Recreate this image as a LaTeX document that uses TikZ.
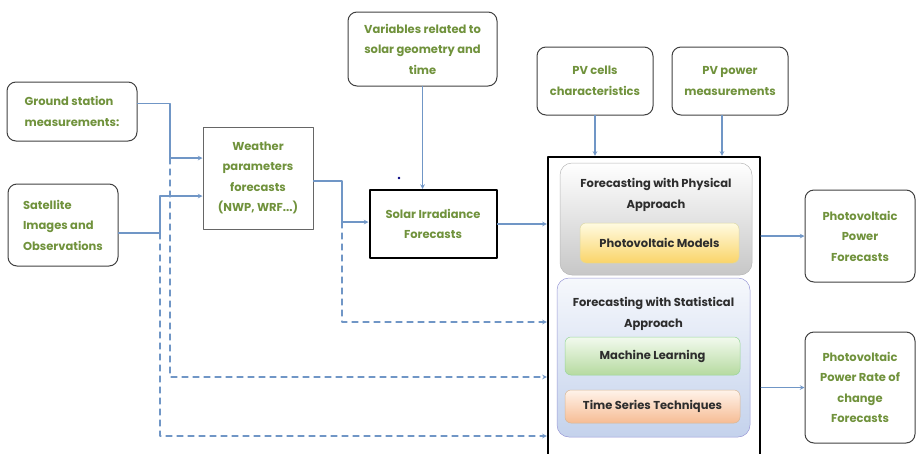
\documentclass[tikz,border=0pt]{standalone}
\usepackage{fontspec}
\setmainfont{Poppins}
\definecolor{txtgreen}{RGB}{112,146,60}
\definecolor{flowblue}{RGB}{112,150,198}
\definecolor{darktxt}{RGB}{45,45,45}
\begin{document}
\begin{tikzpicture}[x=1pt, y=-1pt, line cap=round, line join=round, font=\fontsize{11.5}{20.5}\selectfont\bfseries, >=stealth]
	\tikzset{inbox/.style={draw=black!75, line width=1pt, rounded corners=9pt, text=txtgreen, align=center, inner sep=2pt},
		flow/.style={draw=flowblue, line width=1.1pt},
		flowd/.style={flow, dash pattern=on 6pt off 5pt},
		sub/.style={rounded corners=6pt, text=darktxt, draw=#1!60!black!40, line width=0.5pt}}
	\useasboundingbox (0,0) rectangle (916,453);
	\node[inbox, align=left, minimum width=130pt, minimum height=59pt] (ground) at (72,111.5) {Ground station\\measurements:};
	\node[inbox, align=left, minimum width=110pt, minimum height=82pt] (sat) at (63,225) {Satellite\\Images and\\Observations};
	\node[inbox, rounded corners=0pt, draw=black!60, minimum width=110pt, minimum height=102pt] (weather) at (258,178) {Weather\\parameters\\forecasts\\(NWP, WRF...)};
	\node[inbox, rounded corners=0pt, draw=black, line width=2pt, minimum width=127pt, minimum height=68pt] (solar) at (433,224) {Solar Irradiance\\Forecasts};
	\node[inbox, minimum width=149pt, minimum height=74pt] (vars) at (422.5,49) {Variables related to\\solar geometry and\\time};
	\node[inbox, minimum width=116pt, minimum height=68pt] (cells) at (595,81) {PV cells\\characteristics};
	\node[inbox, minimum width=116pt, minimum height=68pt] (power) at (730,81) {PV power\\measurements};
	\node[draw=black, line width=2.2pt, minimum width=212pt, minimum height=303pt] (big) at (654,308.5) {};
	\node[sub=gray, rounded corners=12pt, top color=white, bottom color=black!22, minimum width=192pt, minimum height=112pt] (phys) at (656,219) {};
	\node[text=darktxt, align=center] (physt) at (656,195) {Forecasting with Physical\\Approach};
	\node[sub=yellow, top color={rgb,255:red,255;green,251;blue,225}, bottom color={rgb,255:red,250;green,212;blue,105}, minimum width=159pt, minimum height=40pt] (models) at (659.5,243) {Photovoltaic Models};
	\node[sub=blue, rounded corners=12pt, top color={rgb,255:red,246;green,248;blue,252}, bottom color={rgb,255:red,196;green,210;blue,236}, minimum width=193pt, minimum height=159pt] (stat) at (653.5,357.5) {};
	\node[text=darktxt, align=center] (statt) at (653.5,314) {Forecasting with Statistical\\Approach};
	\node[sub=green, top color={rgb,255:red,242;green,250;blue,238}, bottom color={rgb,255:red,182;green,218;blue,160}, minimum width=175pt, minimum height=38pt] (ml) at (652.5,356) {Machine Learning};
	\node[sub=orange, top color={rgb,255:red,255;green,243;blue,234}, bottom color={rgb,255:red,246;green,188;blue,148}, minimum width=175pt, minimum height=33pt] (ts) at (652.5,406.5) {Time Series Techniques};
	\node[inbox, minimum width=110pt, minimum height=92pt] (pvf) at (860,236) {Photovoltaic\\Power\\Forecasts};
	\node[inbox, minimum width=110pt, minimum height=111pt] (rate) at (860,387.5) {Photovoltaic\\Power Rate of\\change\\Forecasts};
	\coordinate (gj) at (170,158); \coordinate (g2) at (170,377);
	\coordinate (sj) at (160,233); \coordinate (s1) at (160,196); \coordinate (s2) at (160,436);
	\coordinate (wj) at (342,222); \coordinate (w2) at (342,322);
	\draw[flow, ->] ([yshift=8pt]ground.east) -| (gj) -- (gj -| weather.west);
	\draw[flow, ->] ([yshift=-8pt]sat.east) -- (sj) -- (s1) -- (s1 -| weather.west);
	\draw[flow, ->] ([yshift=-3pt]weather.east) -| (wj) -- (wj -| solar.west);
	\draw[flowd, ->] (gj) -- (g2) -- (g2 -| big.west);
	\draw[flowd, ->] (sj) -- (s2) -- (s2 -| big.west);
	\draw[flowd, ->] (wj) -- (w2) -- (w2 -| big.west);
	\draw[flow, ->] (vars.south) -- (vars.south |- solar.north);
	\draw[flow, ->] (solar.east) -- (solar.east -| big.west);
	\draw[flow, ->] (cells.south) -- (cells.south |- big.north);
	\draw[flow, ->] ([xshift=-8pt]power.south) -- ([xshift=-8pt]power.south |- big.north);
	\draw[flow, ->] (pvf.west -| big.east) -- (pvf.west);
	\draw[flow, ->] (rate.west -| big.east) -- (rate.west);
	\fill[blue!50!black] (399,178) circle (1.3pt);
\end{tikzpicture}
\end{document}
